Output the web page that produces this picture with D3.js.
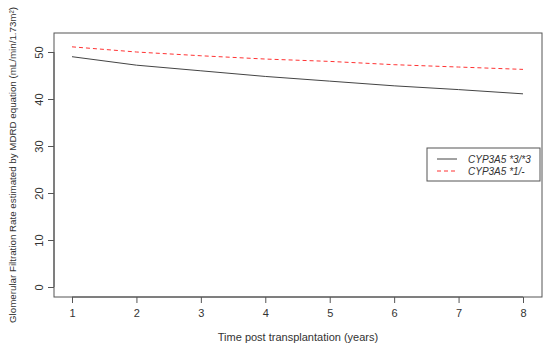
<!DOCTYPE html>
<html><head><meta charset="utf-8">
<script src="https://cdn.jsdelivr.net/npm/d3@7"></script>
<style>body{margin:0;background:#fff}svg{display:block}text{font-family:"Liberation Sans",Arial,sans-serif}</style>
</head><body>
<script>
const years = [1,2,3,4,5,6,7,8];
const cyp33 = [49.0,47.2,46.0,44.8,43.8,42.8,42.0,41.1];
const cyp1 = [51.1,50.0,49.2,48.5,48.0,47.3,46.8,46.3];
const yTicks = [0,10,20,30,40,50];
const seriesNames = ["CYP3A5 *3/*3","CYP3A5 *1/-"];

const W=550,H=351;
const svg=d3.select("body").append("svg").attr("width",W).attr("height",H);
const box={l:54,t:33,r:542,b:297};
const x=d3.scaleLinear().domain([1,8]).range([72,523]);
const y=d3.scaleLinear().domain([0,50]).range([287,52]);

svg.append("rect").attr("x",box.l).attr("y",box.t).attr("width",box.r-box.l).attr("height",box.b-box.t)
  .attr("fill","none").attr("stroke","#555").attr("stroke-width",1);

const xa=svg.append("g").attr("transform",`translate(0,${box.b})`)
  .call(d3.axisBottom(x).tickValues(years).tickSize(6).tickPadding(6).tickFormat(d3.format("d")));
xa.select(".domain").attr("stroke","#555").attr("d",`M${x(1)},0H${x(8)}`);
xa.selectAll("line").attr("stroke","#555");
xa.selectAll("text").attr("font-size",11).attr("fill","#333");

const ya=svg.append("g").attr("transform",`translate(${box.l},0)`)
  .call(d3.axisLeft(y).tickValues(yTicks).tickSize(6).tickPadding(5));
ya.select(".domain").attr("stroke","#555").attr("d",`M0,${y(0)}V${y(50)}`);
ya.selectAll("line").attr("stroke","#555");
ya.selectAll(".tick text").attr("font-size",11).attr("fill","#333").attr("text-anchor","middle")
  .attr("transform","translate(-15,0) rotate(-90)").attr("x",0).attr("dy","0.35em");

const line=d3.line().x((d,i)=>x(years[i])).y(d=>y(d));
svg.append("path").datum(cyp33).attr("d",line).attr("fill","none").attr("stroke","#444").attr("stroke-width",1);
svg.append("path").datum(cyp1).attr("d",line).attr("fill","none").attr("stroke","#ff3333").attr("stroke-width",1).attr("stroke-dasharray","4,3");

svg.append("text").attr("x",(box.l+box.r)/2).attr("y",341).attr("text-anchor","middle").attr("font-size",11).attr("fill","#333")
  .text("Time post transplantation (years)");
svg.append("text").attr("transform",`translate(16,165) rotate(-90)`).attr("text-anchor","middle").attr("font-size",9.6).attr("fill","#333")
  .attr("textLength",316).attr("lengthAdjust","spacingAndGlyphs")
  .text("Glomerular Filtration Rate estimated by MDRD equation (mL/min/1.73m²)");

const lg=svg.append("g");
lg.append("rect").attr("x",427).attr("y",148).attr("width",113).attr("height",33).attr("fill","#fff").attr("stroke","#555");
const cols=["#444","#ff3333"],dash=[null,"4,3"];
seriesNames.forEach((n,i)=>{
  const yy=159+i*12;
  lg.append("line").attr("x1",437).attr("x2",457).attr("y1",yy).attr("y2",yy).attr("stroke",cols[i]).attr("stroke-dasharray",dash[i]);
  lg.append("text").attr("x",468).attr("y",yy).attr("dy","0.35em").attr("font-size",10).attr("font-style","italic").attr("fill","#333").text(n);
});
</script>
</body></html>
